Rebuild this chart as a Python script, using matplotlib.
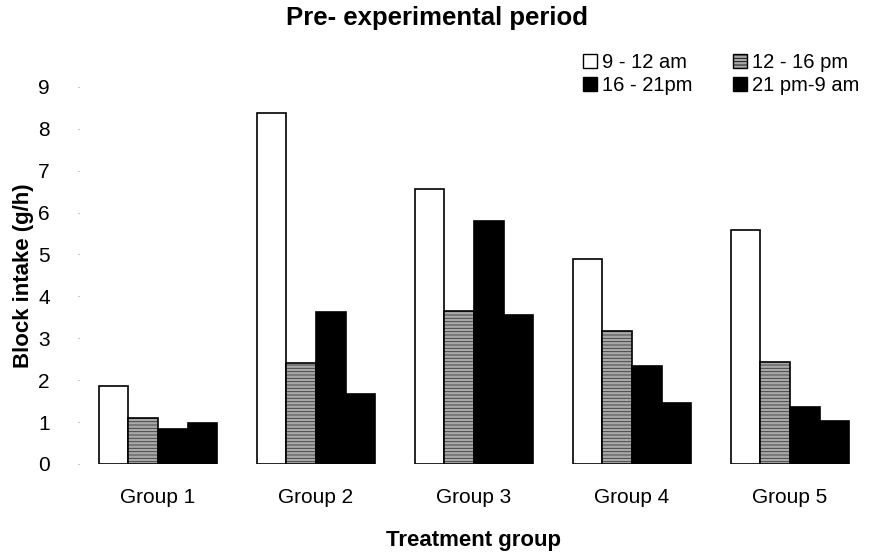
import numpy as np
import matplotlib
matplotlib.use("Agg")
import matplotlib.pyplot as plt
from matplotlib.patches import Patch

plt.rcParams['font.family'] = ['Liberation Sans', 'DejaVu Sans']
plt.rcParams['hatch.linewidth'] = 0.6

groups = ["Group 1", "Group 2", "Group 3", "Group 4", "Group 5"]
periods = ["9 - 12 am", "12 - 16 pm", "16 - 21pm", "21 pm-9 am"]
am_9_12 = [1.86, 8.38, 6.56, 4.89, 5.58]
pm_12_16 = [1.10, 2.41, 3.65, 3.17, 2.43]
pm_16_21 = [0.84, 3.63, 5.80, 2.34, 1.36]
pm21_am9 = [0.98, 1.67, 3.56, 1.46, 1.03]
yticks = list(range(0, 10))

series = [am_9_12, pm_12_16, pm_16_21, pm21_am9]
styles = [
    dict(facecolor="white", hatch=None),
    dict(facecolor="#a8a8a8", hatch="-----"),
    dict(facecolor="black", hatch=None),
    dict(facecolor="black", hatch=None),
]

fig = plt.figure(figsize=(8.71, 5.57), dpi=100)
ax = fig.add_axes([0.0907, 0.167, 0.907, 0.677])

x = np.arange(len(groups))
w = 0.1875
for i, (vals, st) in enumerate(zip(series, styles)):
    pos = x + (i - 1.5) * w
    if st["hatch"]:
        # stippled fill with a soft hatch colour, then a black outline on top
        ax.bar(pos, vals, width=w, facecolor=st["facecolor"],
               edgecolor="#3a3a3a", hatch=st["hatch"], linewidth=0)
        ax.bar(pos, vals, width=w, facecolor="none",
               edgecolor="black", linewidth=1.2)
    else:
        ax.bar(pos, vals, width=w, facecolor=st["facecolor"],
               edgecolor="black", linewidth=1.2)

ax.set_xlim(-0.5, len(groups) - 0.5)
ax.set_ylim(0, 9)
ax.set_yticks(yticks)
ax.set_xticks(x)
ax.set_xticklabels(groups, fontsize=15)
ax.tick_params(axis="y", length=1, pad=20, labelsize=15, color="#999999")
ax.tick_params(axis="x", length=0, pad=17)
for s in ax.spines.values():
    s.set_visible(False)

ax.set_xlabel("Treatment group", fontsize=16, fontweight="bold", labelpad=17)
ax.set_ylabel("Block intake (g/h)", fontsize=16, fontweight="bold", labelpad=3)
fig.suptitle("Pre- experimental period", fontsize=18.5, fontweight="bold",
             x=0.502, y=0.99)

# legend filled row by row: ncol=2 fills columns, so interleave the entries
order = [0, 2, 1, 3]
handles = [Patch(facecolor=styles[k]["facecolor"], edgecolor="black",
                 hatch=styles[k]["hatch"], linewidth=1.0) for k in order]
labels = [periods[k] for k in order]
fig.legend(handles, labels, loc="upper right", bbox_to_anchor=(1.003, 0.93),
           ncol=2, frameon=False, fontsize=14.5, handlelength=0.7,
           handleheight=0.7, handletextpad=0.25, columnspacing=2.0,
           labelspacing=0.2, borderpad=0.2)

fig.savefig("out.png", dpi=100)
